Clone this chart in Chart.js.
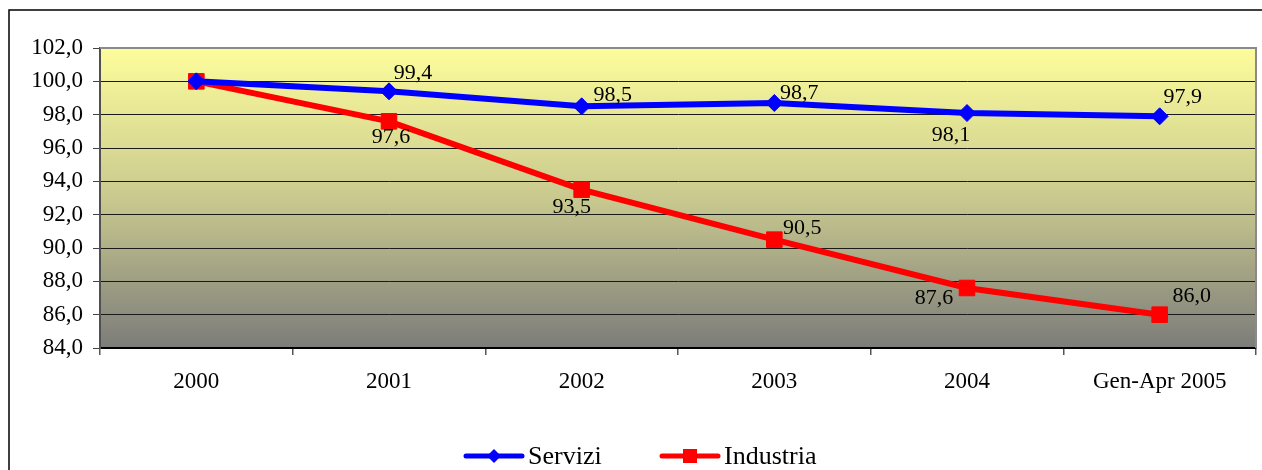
<!DOCTYPE html>
<html>
<head>
<meta charset="utf-8">
<script src="https://cdn.jsdelivr.net/npm/chart.js@4.4.0/dist/chart.umd.min.js"></script>
<style>
html,body{margin:0;padding:0;background:#fff;}
#wrap{width:1262px;height:470px;position:relative;}
</style>
</head>
<body>
<div id="wrap"><canvas id="c" width="1262" height="470"></canvas></div>
<script>
const categories = ['2000', '2001', '2002', '2003', '2004', 'Gen-Apr 2005'];
const serviziValues = [100.0, 99.4, 98.5, 98.7, 98.1, 97.9];
const industriaValues = [100.0, 97.6, 93.5, 90.5, 87.6, 86.0];
const serviziLabelShown = [false, true, true, true, true, true];
const industriaLabelShown = [false, true, true, true, true, true];
const yMin = 84, yMax = 102, yStep = 2;

// label offsets (style / placement only)
const serviziLabelOffset = [[0,0],[24,-18],[31,-11],[25,-10],[-16,22],[23,-19]];
const industriaLabelOffset = [[0,0],[2,16],[-10,18],[28,-11],[-33,10],[32,-18]];

const fmt = v => v.toFixed(1).replace('.', ',');
const FONT = '"Liberation Serif", "Times New Roman", serif';

const bgPlugin = {
  id: 'bg',
  beforeDraw(chart) {
    const {ctx, chartArea: a} = chart;
    ctx.save();
    ctx.strokeStyle = '#000';
    ctx.lineWidth = 1.5;
    ctx.strokeRect(9, 10, 1400, 600);
    const g = ctx.createLinearGradient(0, a.top, 0, a.bottom);
    g.addColorStop(0, '#FDFD9C');
    g.addColorStop(0.5, '#C9C98F');
    g.addColorStop(1, '#7C7C7A');
    ctx.fillStyle = g;
    ctx.fillRect(a.left, a.top, a.right - a.left, a.bottom - a.top);
    ctx.restore();
  },
  afterDatasetsDraw(chart) {
    const {ctx, chartArea: a} = chart;
    ctx.save();
    ctx.strokeStyle = '#8a8a8a';
    ctx.lineWidth = 2;
    ctx.beginPath();
    ctx.moveTo(a.left, a.top);
    ctx.lineTo(a.right, a.top);
    ctx.lineTo(a.right, a.bottom);
    ctx.stroke();
    ctx.font = '22px ' + FONT;
    ctx.fillStyle = '#000';
    ctx.textAlign = 'center';
    ctx.textBaseline = 'middle';
    const sets = [[0, serviziValues, serviziLabelShown, serviziLabelOffset],
                  [1, industriaValues, industriaLabelShown, industriaLabelOffset]];
    sets.forEach(([di, vals, shown, off]) => {
      const meta = chart.getDatasetMeta(di);
      meta.data.forEach((pt, i) => {
        if (!shown[i]) return;
        ctx.fillText(fmt(vals[i]), pt.x + off[i][0], pt.y + off[i][1]);
      });
    });
    const ly = 456;
    const items = [
      {x: 466, label: 'Servizi', color: '#0000FF', style: 'rectRot'},
      {x: 662, label: 'Industria', color: '#FF0000', style: 'rect'}
    ];
    items.forEach(it => {
      ctx.strokeStyle = it.color;
      ctx.lineWidth = 5;
      ctx.lineCap = 'round';
      ctx.beginPath();
      ctx.moveTo(it.x, ly);
      ctx.lineTo(it.x + 56, ly);
      ctx.stroke();
      ctx.fillStyle = it.color;
      const cx = it.x + 28;
      if (it.style === 'rectRot') {
        ctx.beginPath();
        ctx.moveTo(cx - 7, ly); ctx.lineTo(cx, ly - 7); ctx.lineTo(cx + 7, ly); ctx.lineTo(cx, ly + 7);
        ctx.closePath(); ctx.fill();
      } else {
        ctx.fillRect(cx - 7, ly - 7, 14, 14);
      }
      ctx.fillStyle = '#000';
      ctx.font = '26px ' + FONT;
      ctx.textAlign = 'left';
      ctx.textBaseline = 'middle';
      ctx.fillText(it.label, it.x + 62, ly + 1);
    });
    ctx.restore();
  }
};

new Chart(document.getElementById('c'), {
  type: 'line',
  data: {
    labels: categories,
    datasets: [
      {
        label: 'Servizi',
        data: serviziValues,
        borderColor: '#0000FF',
        backgroundColor: '#0000FF',
        borderWidth: 6,
        pointStyle: 'rectRot',
        pointRadius: 8.5,
        pointBorderWidth: 1,
        pointBorderColor: '#0000FF',
        tension: 0
      },
      {
        label: 'Industria',
        data: industriaValues,
        borderColor: '#FF0000',
        backgroundColor: '#FF0000',
        borderWidth: 6,
        pointStyle: 'rect',
        pointRadius: 11,
        pointBorderWidth: 1,
        pointBorderColor: '#FF0000',
        tension: 0
      }
    ]
  },
  options: {
    responsive: false,
    animation: false,
    layout: {autoPadding: false, padding: {left: 0, top: 48, right: 6, bottom: 0}},
    plugins: {legend: {display: false}, tooltip: {enabled: false}},
    scales: {
      x: {
        offset: true,
        grid: {
          offset: true,
          drawOnChartArea: false,
          drawTicks: true,
          tickLength: 7,
          color: '#555',
          lineWidth: 1.5
        },
        border: {display: true, color: '#000', width: 2},
        ticks: {
          color: '#000',
          font: {family: FONT, size: 23},
          padding: 13,
          maxRotation: 0,
          autoSkip: false
        },
        afterFit(s) { s.height = 122; s.paddingLeft = 0; s.paddingRight = 0; }
      },
      y: {
        min: yMin,
        max: yMax,
        ticks: {
          stepSize: yStep,
          color: '#000',
          font: {family: FONT, size: 23},
          padding: 10,
          callback: v => fmt(v)
        },
        grid: {
          color: ctx => ctx.tick && ctx.tick.value === yMax ? 'rgba(0,0,0,0)' : '#1a1a1a',
          tickColor: '#444',
          tickLength: 7,
          lineWidth: 1
        },
        border: {display: true, color: '#505050', width: 2},
        afterFit(s) { s.width = 100; s.paddingTop = 0; s.paddingBottom = 0; }
      }
    }
  },
  plugins: [bgPlugin]
});
</script>
</body>
</html>
